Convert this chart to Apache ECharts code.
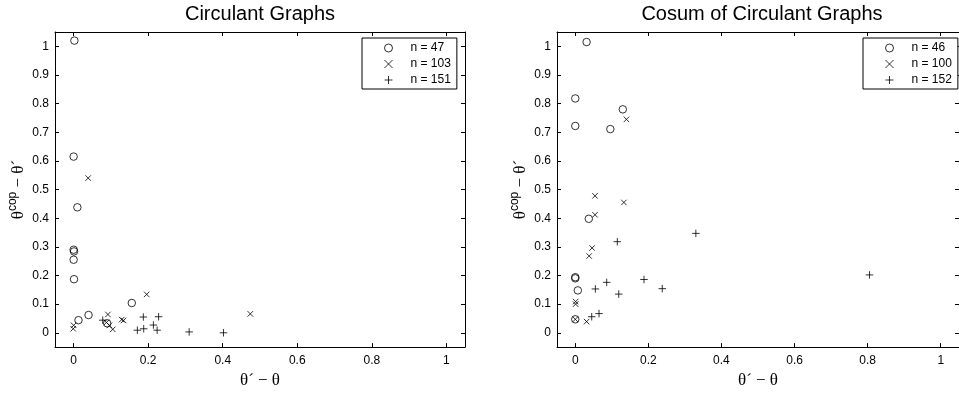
<!DOCTYPE html>
<html>
<head>
<meta charset="utf-8">
<script src="https://cdn.jsdelivr.net/npm/echarts@6/dist/echarts.min.js"></script>
<style>
  html, body { margin: 0; padding: 0; background: #fff; }
  #chart { width: 959px; height: 394px; }
</style>
</head>
<body>
<div id="chart"></div>
<script>
// tick positions
const xTicks = [0, 0.2, 0.4, 0.6, 0.8, 1];
const yTicks = [0, 0.1, 0.2, 0.3, 0.4, 0.5, 0.6, 0.7, 0.8, 0.9, 1];

// left panel: Circulant Graphs
const circulantTitle = 'Circulant Graphs';
const circulantNames = ['n = 47', 'n = 103', 'n = 151'];
const circ47 = [[0.002, 1.02], [0.0, 0.615], [0.01, 0.438], [0.0, 0.29], [0.001, 0.284],
  [0.0, 0.255], [0.001, 0.187], [0.013, 0.044], [0.04, 0.062], [0.156, 0.104], [0.09, 0.033]];
const circ103 = [[0.039, 0.54], [0.196, 0.134], [0.474, 0.066], [0.092, 0.064], [0.0, 0.026],
  [-0.001, 0.014], [0.088, 0.036], [0.096, 0.026], [0.105, 0.012], [0.129, 0.046], [0.134, 0.043]];
const circ151 = [[0.078, 0.044], [0.187, 0.055], [0.228, 0.056], [0.171, 0.009], [0.188, 0.014],
  [0.214, 0.027], [0.224, 0.009], [0.31, 0.003], [0.402, 0.0]];

// right panel: Cosum of Circulant Graphs
const cosumTitle = 'Cosum of Circulant Graphs';
const cosumNames = ['n = 46', 'n = 100', 'n = 152'];
const cos46 = [[0.031, 1.015], [0.0, 0.818], [0.0, 0.722], [0.13, 0.78], [0.096, 0.711],
  [0.037, 0.398], [0.0, 0.194], [0.0, 0.19], [0.007, 0.148], [0.0, 0.047]];
const cos100 = [[0.14, 0.745], [0.054, 0.478], [0.133, 0.455], [0.054, 0.412], [0.046, 0.296],
  [0.038, 0.268], [0.001, 0.109], [0.001, 0.1], [0.0, 0.047], [0.031, 0.039]];
const cos152 = [[0.33, 0.347], [0.115, 0.318], [0.805, 0.202], [0.188, 0.186], [0.086, 0.176],
  [0.238, 0.154], [0.055, 0.153], [0.119, 0.135], [0.065, 0.067], [0.045, 0.056]];

const SANS = '"Liberation Sans", Arial, sans-serif';
const SERIF = '"Liberation Serif", "DejaVu Serif", serif';

const markers = [
  { symbol: 'circle', size: 7.5 },
  { symbol: 'path://M0,0L10,10M10,0L0,10', size: 5.5 },
  { symbol: 'path://M5,0L5,10M0,5L10,5', size: 7.5 }
];

const chart = echarts.init(document.getElementById('chart'), null, { renderer: 'canvas' });

const grids = [
  { left: 55, top: 32, width: 410, height: 322 },
  { left: 557, top: 32, width: 410, height: 322 }
];

function xAxisFor(gridIndex, top) {
  return {
    type: 'value', gridIndex, min: -0.05, max: 1.05,
    position: top ? 'top' : 'bottom',
    axisLine: { show: true, onZero: false, lineStyle: { color: '#000', width: 1 } },
    axisTick: { show: true, inside: true, length: 4, customValues: xTicks, lineStyle: { color: '#000' } },
    axisLabel: { show: !top, customValues: xTicks, margin: 8, color: '#000', fontSize: 12, fontFamily: SANS },
    splitLine: { show: false },
    name: top ? '' : 'θ´ − θ',
    nameLocation: 'middle', nameGap: 17,
    nameTextStyle: { fontSize: 17, fontFamily: SERIF, color: '#000' }
  };
}

function yAxisFor(gridIndex, right) {
  return {
    type: 'value', gridIndex, min: -0.05, max: 1.05,
    position: right ? 'right' : 'left',
    axisLine: { show: true, onZero: false, lineStyle: { color: '#000', width: 1 } },
    axisTick: { show: true, inside: true, length: 4, customValues: yTicks, lineStyle: { color: '#000' } },
    axisLabel: { show: !right, customValues: yTicks, margin: 6, color: '#000', fontSize: 12, fontFamily: SANS },
    splitLine: { show: false },
    name: right ? '' : '{a|θ}{b|cop}{c| − θ´}',
    nameLocation: 'middle', nameGap: 28, nameRotate: 90,
    nameTextStyle: {
      color: '#000',
      rich: {
        a: { fontSize: 17, fontFamily: SERIF, color: '#000', verticalAlign: 'bottom' },
        b: { fontSize: 12, fontFamily: SANS, color: '#000', verticalAlign: 'bottom', padding: [0, 0, 8, 0] },
        c: { fontSize: 17, fontFamily: SERIF, color: '#000', verticalAlign: 'bottom' }
      }
    }
  };
}

function scatter(name, data, k, axisIdx) {
  return {
    type: 'scatter', name, data,
    xAxisIndex: axisIdx, yAxisIndex: axisIdx,
    symbol: markers[k].symbol, symbolSize: markers[k].size, symbolKeepAspect: true,
    itemStyle: { color: 'transparent', borderColor: '#000', borderWidth: 1 },
    emphasis: { disabled: true },
    animation: false
  };
}

function legendFor(names, left) {
  return {
    data: names, orient: 'vertical', left, top: 38,
    selectedMode: false,
    itemWidth: 8, itemHeight: 8, itemGap: 4,
    padding: [4, 6, 3, 22],
    borderColor: '#000', borderWidth: 1, backgroundColor: '#fff',
    itemStyle: { color: 'transparent', borderColor: '#000', borderWidth: 1 },
    textStyle: { fontSize: 12, fontFamily: SANS, color: '#000', padding: [0, 0, 0, 13] }
  };
}

const titleStyle = { fontSize: 20, fontWeight: 'normal', fontFamily: SANS, color: '#000' };

const option = {
  backgroundColor: '#fff',
  animation: false,
  title: [
    { text: circulantTitle, left: 260, top: 4, padding: 0, textAlign: 'center', textStyle: titleStyle },
    { text: cosumTitle, left: 762, top: 4, padding: 0, textAlign: 'center', textStyle: titleStyle }
  ],
  grid: grids,
  xAxis: [xAxisFor(0, false), xAxisFor(1, false), xAxisFor(0, true), xAxisFor(1, true)],
  yAxis: [yAxisFor(0, false), yAxisFor(1, false), yAxisFor(0, true), yAxisFor(1, true)],
  legend: [legendFor(circulantNames, 362), legendFor(cosumNames, 863)],
  series: [
    scatter(circulantNames[0], circ47, 0, 0),
    scatter(circulantNames[1], circ103, 1, 0),
    scatter(circulantNames[2], circ151, 2, 0),
    scatter(cosumNames[0], cos46, 0, 1),
    scatter(cosumNames[1], cos100, 1, 1),
    scatter(cosumNames[2], cos152, 2, 1)
  ]
};

chart.setOption(option);
</script>
</body>
</html>
